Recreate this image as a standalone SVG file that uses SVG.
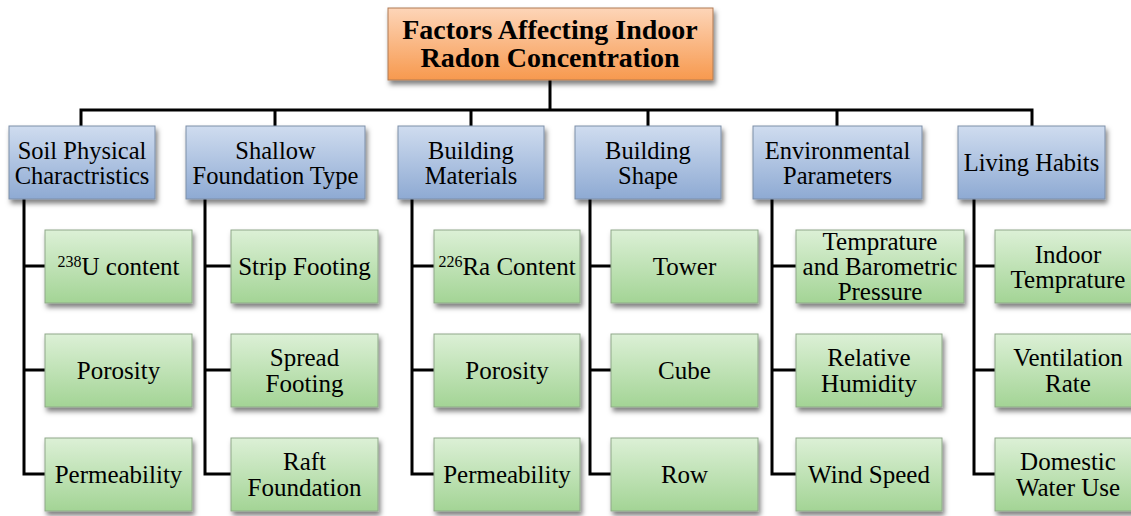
<svg xmlns="http://www.w3.org/2000/svg" width="1131" height="516" viewBox="0 0 1131 516">
  <defs>
    <linearGradient id="gOrange" x1="0" y1="0" x2="0" y2="1">
      <stop offset="0" stop-color="#fdd5b8"/>
      <stop offset="1" stop-color="#f7994e"/>
    </linearGradient>
    <linearGradient id="gBlue" x1="0" y1="0" x2="0" y2="1">
      <stop offset="0" stop-color="#cfdcef"/>
      <stop offset="1" stop-color="#8eaad3"/>
    </linearGradient>
    <linearGradient id="gGreen" x1="0" y1="0" x2="0" y2="1">
      <stop offset="0" stop-color="#dcf0d6"/>
      <stop offset="1" stop-color="#a3d495"/>
    </linearGradient>
    <filter id="shadow" x="-10%" y="-10%" width="125%" height="135%">
      <feDropShadow dx="2" dy="4" stdDeviation="2.5" flood-color="#000" flood-opacity="0.5"/>
    </filter>
  </defs>
  <style>
    .root { fill: url(#gOrange); stroke: #b07a55; stroke-width: 1; filter: url(#shadow); }
    .cat { fill: url(#gBlue); stroke: #7d8fa8; stroke-width: 1; filter: url(#shadow); }
    .leaf { fill: url(#gGreen); stroke: #8fa889; stroke-width: 1; filter: url(#shadow); }
    text { font-family: "Liberation Serif", "DejaVu Serif", serif; fill: #000; text-anchor: middle; }
    .t-root { font-size: 28px; font-weight: bold; }
    .t-cat { font-size: 24.5px; }
    .t-leaf { font-size: 25px; }
    .sup { font-size: 16px; }
    .wire { fill: none; stroke: #000; stroke-width: 3; }
  </style>

  <rect width="1131" height="516" fill="#ffffff"/>

  <!-- connectors -->
  <g id="connectors" class="wire">
    <path d="M550,80 V110"/>
    <path d="M81,126 V110 H1032 V126"/>
    <path d="M275,110 V126 M471,110 V126 M648,110 V126 M837,110 V126"/>
    <!-- column spines with branches -->
    <path d="M24,199 V474 H45 M24,266 H45 M24,370 H45"/>
    <path d="M205,199 V474 H231 M205,266 H231 M205,370 H231"/>
    <path d="M412,199 V474 H434 M412,266 H434 M412,370 H434"/>
    <path d="M590,199 V474 H611 M590,266 H611 M590,370 H611"/>
    <path d="M772,199 V474 H796 M772,266 H796 M772,370 H796"/>
    <path d="M974,199 V474 H995 M974,266 H995 M974,370 H995"/>
  </g>

  <!-- root -->
  <g id="root">
    <rect class="root" x="388" y="8" width="325" height="72"/>
    <text class="t-root" x="550" y="39">Factors Affecting Indoor</text>
    <text class="t-root" x="550" y="67">Radon Concentration</text>
  </g>

  <!-- categories -->
  <g id="cat-soil">
    <rect class="cat" x="9" y="126" width="146" height="73"/>
    <text class="t-cat" x="82" y="159">Soil Physical</text>
    <text class="t-cat" x="82" y="184">Charactristics</text>
  </g>
  <g id="cat-foundation">
    <rect class="cat" x="186" y="126" width="179" height="73"/>
    <text class="t-cat" x="275.5" y="159">Shallow</text>
    <text class="t-cat" x="275.5" y="184">Foundation Type</text>
  </g>
  <g id="cat-materials">
    <rect class="cat" x="398" y="126" width="146" height="73"/>
    <text class="t-cat" x="471" y="159">Building</text>
    <text class="t-cat" x="471" y="184">Materials</text>
  </g>
  <g id="cat-shape">
    <rect class="cat" x="575" y="126" width="146" height="73"/>
    <text class="t-cat" x="648" y="159">Building</text>
    <text class="t-cat" x="648" y="184">Shape</text>
  </g>
  <g id="cat-environment">
    <rect class="cat" x="753" y="126" width="169" height="73"/>
    <text class="t-cat" x="837.5" y="159">Environmental</text>
    <text class="t-cat" x="837.5" y="184">Parameters</text>
  </g>
  <g id="cat-habits">
    <rect class="cat" x="958" y="126" width="147" height="73"/>
    <text class="t-cat" x="1031.5" y="171">Living Habits</text>
  </g>

  <!-- soil leaves -->
  <g id="leaf-u238">
    <rect class="leaf" x="45" y="230" width="147" height="73"/>
    <text class="t-leaf" x="118.5" y="275"><tspan class="sup" dy="-8">238</tspan><tspan dy="8">U content</tspan></text>
  </g>
  <g id="leaf-soil-porosity">
    <rect class="leaf" x="45" y="334" width="147" height="73"/>
    <text class="t-leaf" x="118.5" y="379">Porosity</text>
  </g>
  <g id="leaf-soil-permeability">
    <rect class="leaf" x="45" y="438" width="147" height="73"/>
    <text class="t-leaf" x="118.5" y="483">Permeability</text>
  </g>

  <!-- foundation leaves -->
  <g id="leaf-strip">
    <rect class="leaf" x="231" y="230" width="147" height="73"/>
    <text class="t-leaf" x="304.5" y="275">Strip Footing</text>
  </g>
  <g id="leaf-spread">
    <rect class="leaf" x="231" y="334" width="147" height="73"/>
    <text class="t-leaf" x="304.5" y="366">Spread</text>
    <text class="t-leaf" x="304.5" y="392">Footing</text>
  </g>
  <g id="leaf-raft">
    <rect class="leaf" x="231" y="438" width="147" height="73"/>
    <text class="t-leaf" x="304.5" y="470">Raft</text>
    <text class="t-leaf" x="304.5" y="496">Foundation</text>
  </g>

  <!-- materials leaves -->
  <g id="leaf-ra226">
    <rect class="leaf" x="434" y="230" width="146" height="73"/>
    <text class="t-leaf" x="507" y="275"><tspan class="sup" dy="-8">226</tspan><tspan dy="8">Ra Content</tspan></text>
  </g>
  <g id="leaf-mat-porosity">
    <rect class="leaf" x="434" y="334" width="146" height="73"/>
    <text class="t-leaf" x="507" y="379">Porosity</text>
  </g>
  <g id="leaf-mat-permeability">
    <rect class="leaf" x="434" y="438" width="146" height="73"/>
    <text class="t-leaf" x="507" y="483">Permeability</text>
  </g>

  <!-- shape leaves -->
  <g id="leaf-tower">
    <rect class="leaf" x="611" y="230" width="147" height="73"/>
    <text class="t-leaf" x="684.5" y="275">Tower</text>
  </g>
  <g id="leaf-cube">
    <rect class="leaf" x="611" y="334" width="147" height="73"/>
    <text class="t-leaf" x="684.5" y="379">Cube</text>
  </g>
  <g id="leaf-row">
    <rect class="leaf" x="611" y="438" width="147" height="73"/>
    <text class="t-leaf" x="684.5" y="483">Row</text>
  </g>

  <!-- environment leaves -->
  <g id="leaf-temp-pressure">
    <rect class="leaf" x="796" y="230" width="168" height="73"/>
    <text class="t-leaf" x="880" y="250">Temprature</text>
    <text class="t-leaf" x="880" y="275">and Barometric</text>
    <text class="t-leaf" x="880" y="300">Pressure</text>
  </g>
  <g id="leaf-humidity">
    <rect class="leaf" x="796" y="334" width="146" height="73"/>
    <text class="t-leaf" x="869" y="366">Relative</text>
    <text class="t-leaf" x="869" y="392">Humidity</text>
  </g>
  <g id="leaf-wind">
    <rect class="leaf" x="796" y="438" width="146" height="73"/>
    <text class="t-leaf" x="869" y="483">Wind Speed</text>
  </g>

  <!-- habits leaves -->
  <g id="leaf-indoor-temp">
    <rect class="leaf" x="995" y="230" width="147" height="73"/>
    <text class="t-leaf" x="1068" y="263">Indoor</text>
    <text class="t-leaf" x="1068" y="288">Temprature</text>
  </g>
  <g id="leaf-ventilation">
    <rect class="leaf" x="995" y="334" width="147" height="73"/>
    <text class="t-leaf" x="1068" y="366">Ventilation</text>
    <text class="t-leaf" x="1068" y="392">Rate</text>
  </g>
  <g id="leaf-water">
    <rect class="leaf" x="995" y="438" width="147" height="73"/>
    <text class="t-leaf" x="1068" y="470">Domestic</text>
    <text class="t-leaf" x="1068" y="496">Water Use</text>
  </g>
</svg>
